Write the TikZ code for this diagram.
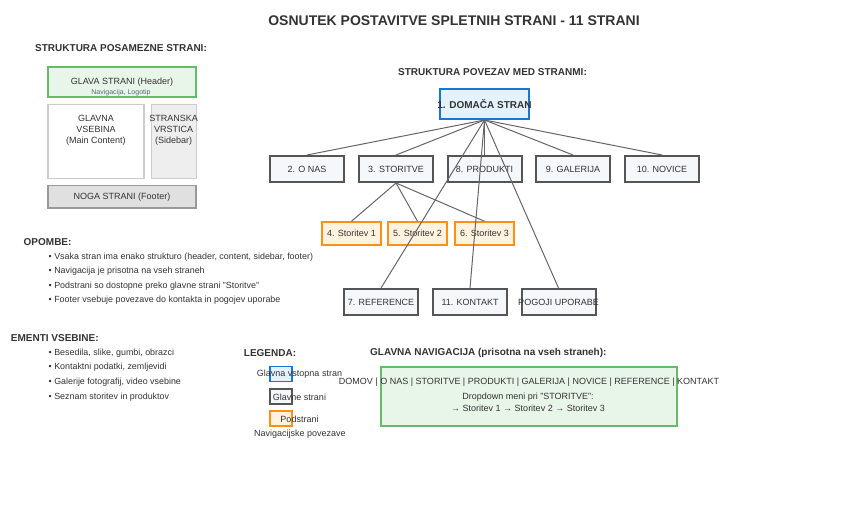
\documentclass[tikz,border=0pt]{standalone}
\usepackage{fontspec}
\setmainfont{Liberation Sans}
\definecolor{txt}{HTML}{333333}
\definecolor{conn}{HTML}{666666}
\definecolor{bluebd}{HTML}{1976D2}
\definecolor{bluefl}{HTML}{E3F2FD}
\definecolor{greenbd}{HTML}{66BB6A}
\definecolor{greenfl}{HTML}{E8F5E9}
\definecolor{orangebd}{HTML}{FF9016}
\definecolor{orangefl}{HTML}{FFF3E0}
\definecolor{graybd}{HTML}{555555}
\definecolor{grayfl}{HTML}{F5F7FA}
\definecolor{lightbd}{HTML}{CCCCCC}
\definecolor{sidefl}{HTML}{EEEEEE}
\definecolor{footfl}{HTML}{E0E0E0}
\definecolor{footbd}{HTML}{999999}
\definecolor{smalltxt}{HTML}{5A6A7A}
\begin{document}
\begin{tikzpicture}[x=1pt,y=-1pt,
  lbl/.style={font=\fontsize{9}{11.2}\selectfont, text=txt, inner sep=0pt, align=center},
  head/.style={font=\fontsize{10}{12}\bfseries, text=txt, inner sep=0pt, anchor=west},
  bul/.style={font=\fontsize{8.9}{11}\selectfont, text=txt, inner sep=0pt, anchor=west},
  homebox/.style={draw=bluebd, fill=bluefl, line width=2pt, minimum width=89pt, minimum height=30pt, inner sep=0pt},
  pagebox/.style={draw=graybd, fill=grayfl, line width=2pt, minimum width=74pt, minimum height=26pt, inner sep=0pt, font=\fontsize{9}{11}\selectfont, text=txt},
  subbox/.style={draw=orangebd, fill=orangefl, line width=1.5pt, minimum width=59pt, minimum height=23pt, inner sep=0pt, font=\fontsize{9}{11}\selectfont, text=txt},
  link/.style={draw=conn, line width=1pt},
  legbox/.style={line width=1.5pt, minimum width=22pt, minimum height=15pt, inner sep=0pt}
]
\useasboundingbox (0,0) rectangle (848,518);

% title
\node[font=\fontsize{14}{16}\bfseries, text=txt, inner sep=0pt] (title) at (454,21) {OSNUTEK POSTAVITVE SPLETNIH STRANI - 11 STRANI};

% page structure
\node[head] (hstruct) at (35,48) {STRUKTURA POSAMEZNE STRANI:};
\node[draw=greenbd, fill=greenfl, line width=1.5pt, minimum width=148pt, minimum height=30pt, inner sep=0pt] (header) at (122,82) {};
\node[lbl] (headert) at (122,82.5) {GLAVA STRANI (Header)};
\node[font=\fontsize{7}{8}\selectfont, text=smalltxt, inner sep=0pt] (headers) at (121,92.3) {Navigacija, Logotip};
\node[draw=lightbd, fill=white, line width=1.5pt, minimum width=96pt, minimum height=74pt, inner sep=0pt] (main) at (96,141.3) {};
\node[lbl] (maint) at (96,130.5) {GLAVNA\\VSEBINA\\(Main Content)};
\node[draw=lightbd, fill=sidefl, line width=1.5pt, minimum width=44.6pt, minimum height=74pt, inner sep=0pt] (side) at (174,141.3) {};
\node[lbl] (sidet) at (173.7,130.5) {STRANSKA\\VRSTICA\\(Sidebar)};
\node[draw=footbd, fill=footfl, line width=1.5pt, minimum width=148pt, minimum height=22.7pt, inner sep=0pt, font=\fontsize{9}{11}\selectfont, text=txt] (footer) at (122,196.7) {NOGA STRANI (Footer)};

% link structure
\node[font=\fontsize{10}{12}\bfseries, text=txt, inner sep=0pt] (hlinks) at (492.5,71.7) {STRUKTURA POVEZAV MED STRANMI:};
\node[homebox, label={[font=\fontsize{10}{12}\bfseries, text=txt, inner sep=0pt]center:1. DOMAČA STRAN}] (home) at (484.5,104) {};

\node[pagebox] (onas) at (307,169) {2. O NAS};
\node[pagebox] (stor) at (396,169) {3. STORITVE};
\node[pagebox] (prod) at (484.5,169) {8. PRODUKTI};
\node[pagebox] (gal) at (573,169) {9. GALERIJA};
\node[pagebox] (nov) at (662,169) {10. NOVICE};

\node[subbox] (s1) at (351.5,233.5) {4. Storitev 1};
\node[subbox] (s2) at (417.5,233.5) {5. Storitev 2};
\node[subbox] (s3) at (484.5,233.5) {6. Storitev 3};

\node[pagebox] (ref) at (381,302) {7. REFERENCE};
\node[pagebox] (kon) at (470,302) {11. KONTAKT};
\node[pagebox, label={[font=\fontsize{9}{11}\selectfont, text=txt, inner sep=0pt]center:POGOJI UPORABE}] (pog) at (558.5,302) {};

\foreach \t in {onas,stor,prod,gal,nov} \draw[link] (home.south) -- (\t.north);
\foreach \t in {s1,s2,s3} \draw[link] (stor.south) -- (\t.north);
\foreach \t in {ref,kon,pog} \draw[link] (home.south) -- (\t.north);

% notes
\node[head] (hnotes) at (23.5,242) {OPOMBE:};
\node[bul] (n1) at (48.5,256.7) {• Vsaka stran ima enako strukturo (header, content, sidebar, footer)};
\node[bul] (n2) at (48.5,271.2) {• Navigacija je prisotna na vseh straneh};
\node[bul] (n3) at (48.5,285.7) {• Podstrani so dostopne preko glavne strani "Storitve"};
\node[bul] (n4) at (48.5,300.3) {• Footer vsebuje povezave do kontakta in pogojev uporabe};

\node[head] (helem) at (10.7,338) {EMENTI VSEBINE:};
\node[bul] (e1) at (48.5,352.7) {• Besedila, slike, gumbi, obrazci};
\node[bul] (e2) at (48.5,367.3) {• Kontaktni podatki, zemljevidi};
\node[bul] (e3) at (48.5,382) {• Galerije fotografij, video vsebine};
\node[bul] (e4) at (48.5,396.7) {• Seznam storitev in produktov};

% legend
\node[head] (hleg) at (243.7,352.7) {LEGENDA:};
\node[legbox, draw=bluebd, fill=bluefl] (lg1) at (281,374) {};
\node[lbl] (lg1t) at (299.5,374.5) {Glavna vstopna stran};
\node[legbox, draw=graybd, fill=grayfl] (lg2) at (281,396.5) {};
\node[lbl] (lg2t) at (299.5,397) {Glavne strani};
\node[legbox, draw=orangebd, fill=orangefl] (lg3) at (281,418.5) {};
\node[lbl] (lg3t) at (299.5,419) {Podstrani};
\node[lbl] (lg4t) at (300,434) {Navigacijske povezave};

% main navigation
\node[head] (hnav) at (370,353) {GLAVNA NAVIGACIJA (prisotna na vseh straneh):};
\node[draw=greenbd, fill=greenfl, line width=1.5pt, minimum width=296pt, minimum height=59pt, inner sep=0pt] (navbox) at (529,396.5) {};
\node[lbl] (navt) at (529,382) {DOMOV | O NAS | STORITVE | PRODUKTI | GALERIJA | NOVICE | REFERENCE | KONTAKT};
\node[lbl] (navd) at (528,397) {Dropdown meni pri "STORITVE":};
\node[lbl] (nava) at (528,408) {→ Storitev 1 → Storitev 2 → Storitev 3};
\end{tikzpicture}
\end{document}
